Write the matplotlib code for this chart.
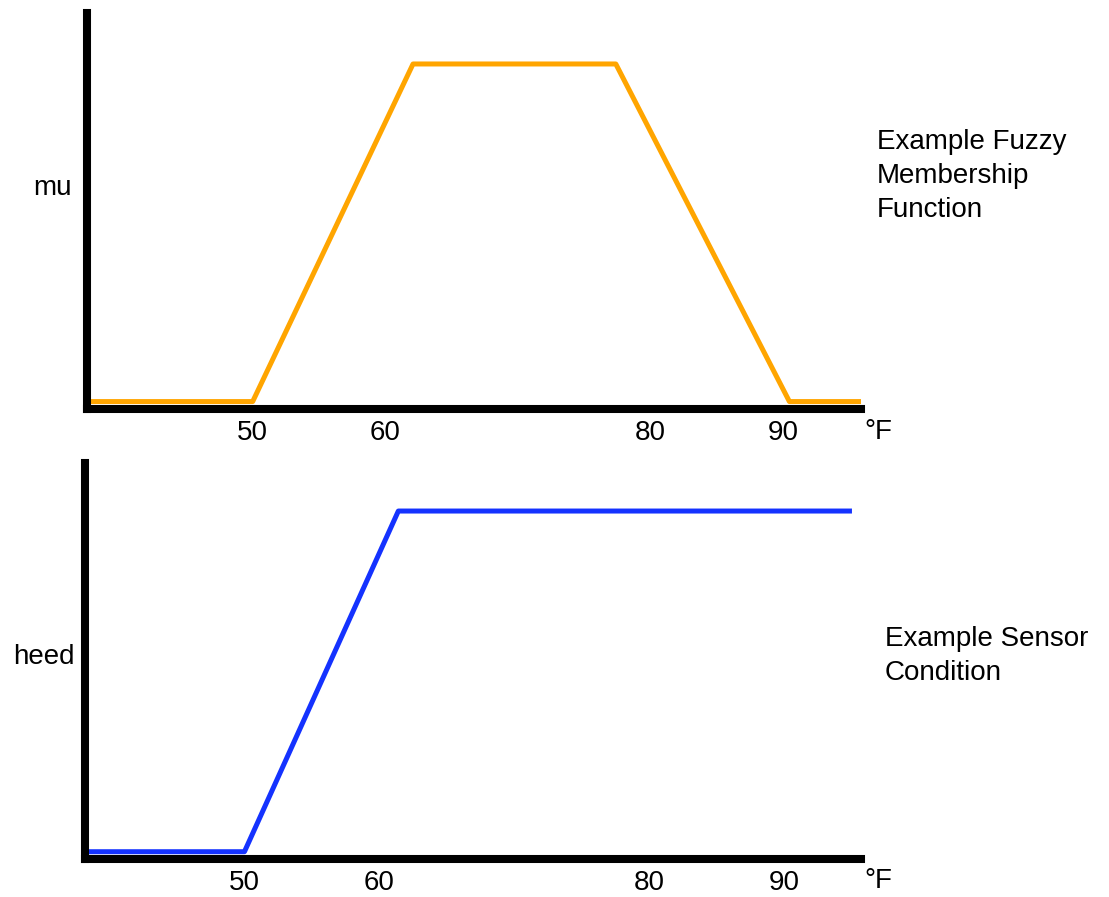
import matplotlib
matplotlib.use('Agg')
from matplotlib import pyplot as plt

plt.rcParams['font.family'] = ['Liberation Sans', 'DejaVu Sans']

# membership function (top) - temperature in F vs mu
fuzzy_x = [37.5, 50, 62.1, 77.4, 90.5, 95.9]
fuzzy_mu = [0, 0, 1, 1, 0, 0]

# sensor condition (bottom) - temperature in F vs heed
sensor_x = [38.2, 50, 61.4, 95.0]
sensor_heed = [0, 0, 1, 1]

tick_vals = [50, 60, 80, 90]
tick_labels = ['50', '60', '80', '90']

W, H = 1109, 897
fs = 20
fig = plt.figure(figsize=(W / 100, H / 100), dpi=100)


def px_axes(left, right, top, bottom):
    return fig.add_axes([left / W, 1 - bottom / H, (right - left) / W, (bottom - top) / H])


def style(ax):
    for s in ['top', 'right']:
        ax.spines[s].set_visible(False)
    for s in ['left', 'bottom']:
        ax.spines[s].set_linewidth(5.8)
        ax.spines[s].set_color('black')
    ax.set_yticks([])
    ax.set_xticks(tick_vals)
    ax.set_xticklabels(tick_labels, fontsize=fs)
    ax.tick_params(axis='x', length=0, pad=8)


ax1 = px_axes(87, 861, 13, 409)
ax1.plot(fuzzy_x, fuzzy_mu, color='#ffa500', linewidth=3.6, solid_capstyle='butt')
ax1.set_xlim(37.5, 95.9)
ax1.set_ylim(-0.022, 1.151)
style(ax1)

ax2 = px_axes(85, 861, 463, 859)
ax2.plot(sensor_x, sensor_heed, color='#1432ff', linewidth=3.6, solid_capstyle='butt')
ax2.set_xlim(38.19, 95.67)
ax2.set_ylim(-0.0214, 1.141)
style(ax2)

# labels
fig.text(72 / W, 1 - 188 / H, 'mu', fontsize=fs, ha='right', va='center')
fig.text(75 / W, 1 - 657 / H, 'heed', fontsize=fs, ha='right', va='center')
fig.text(864 / W, 1 - 432 / H, '°F', fontsize=fs, ha='left', va='center')
fig.text(864 / W, 1 - 881 / H, '°F', fontsize=fs, ha='left', va='center')

fig.text(877 / W, 1 - 176 / H, 'Example Fuzzy\nMembership\nFunction', fontsize=fs,
         ha='left', va='center', linespacing=1.42)
fig.text(885 / W, 1 - 656 / H, 'Example Sensor\nCondition', fontsize=fs,
         ha='left', va='center', linespacing=1.42)

plt.savefig('out.png', dpi=100)
